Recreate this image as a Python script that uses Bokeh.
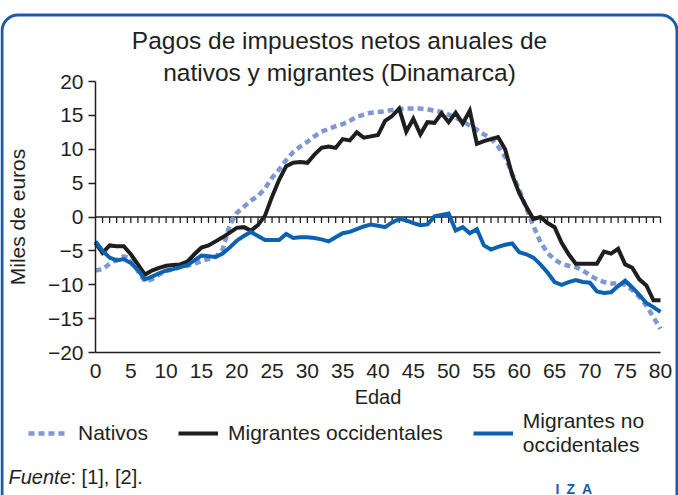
from bokeh.plotting import figure
from bokeh.models import (Range1d, FixedTicker, Label, Legend, LegendItem,
                          BoxAnnotation)
from bokeh.embed import file_html
from bokeh.resources import INLINE

# ---------------- data ----------------
ages = list(range(81))

nativos = [-7.9, -7.7, -6.9, -6.3, -5.8, -6.1, -8.0, -9.5, -9.2, -8.5,
           -8.0, -7.7, -7.4, -7.2, -6.9, -6.5, -6.2, -5.9, -4.8, -1.2,
           0.6, 1.5, 2.4, 3.1, 4.2, 5.8, 7.0, 8.4, 9.6, 10.4,
           11.1, 11.9, 12.6, 13.0, 13.4, 13.7, 14.2, 14.8, 15.1, 15.4,
           15.5, 15.6, 15.8, 15.9, 16.0, 16.0, 16.0, 15.9, 15.7, 15.5,
           15.1, 14.7, 14.1, 13.5, 12.9, 12.2, 11.6, 10.4, 8.9, 6.4,
           4.0, 1.3, -1.3, -3.7, -5.3, -6.3, -6.9, -7.2, -7.4, -7.9,
           -8.6, -9.2, -9.6, -9.8, -9.8, -10.0, -10.8, -11.8, -13.1, -14.8,
           -16.5]

occidentales = [-3.8, -5.3, -4.2, -4.3, -4.3, -5.5, -7.0, -8.5, -7.9, -7.5,
                -7.2, -7.1, -7.0, -6.6, -5.5, -4.5, -4.2, -3.6, -3.0, -2.3,
                -1.6, -1.5, -2.0, -1.2, 0.2, 3.0, 5.5, 7.5, 8.0, 8.1,
                8.0, 9.2, 10.2, 10.4, 10.2, 11.5, 11.3, 12.5, 11.7, 11.9,
                12.1, 14.2, 14.9, 16.0, 12.6, 14.5, 12.2, 14.0, 13.9, 15.3,
                14.0, 15.4, 13.8, 15.7, 10.8, 11.2, 11.5, 11.8, 10.0, 6.2,
                3.5, 1.5, -0.3, 0.0, -0.9, -1.5, -3.8, -5.5, -6.9, -6.9,
                -6.9, -6.9, -5.1, -5.4, -4.7, -7.0, -7.5, -9.2, -10.1, -12.3,
                -12.3]

no_occidentales = [-3.6, -5.0, -6.0, -6.4, -6.2, -6.8, -7.8, -9.2, -8.8, -8.3,
                   -7.9, -7.7, -7.4, -7.1, -6.4, -5.7, -5.8, -5.9, -5.4, -4.5,
                   -3.5, -2.8, -2.2, -2.8, -3.4, -3.4, -3.4, -2.5, -3.1, -3.0,
                   -3.0, -3.1, -3.3, -3.6, -3.0, -2.4, -2.2, -1.8, -1.4, -1.1,
                   -1.3, -1.5, -0.8, -0.3, -0.5, -0.9, -1.2, -1.1, 0.1, 0.3,
                   0.5, -2.0, -1.5, -2.4, -1.8, -4.2, -4.8, -4.4, -4.1, -3.9,
                   -5.2, -5.5, -6.0, -7.0, -8.2, -9.6, -10.0, -9.6, -9.3, -9.6,
                   -9.7, -11.0, -11.2, -11.1, -10.2, -9.4, -10.4, -11.5, -12.7, -13.3,
                   -14.0]

series_labels = ["Nativos", "Migrantes occidentales", "Migrantes no\noccidentales"]

x_min, x_max = 0, 80
y_min, y_max = -20, 20
y_ticks = [-20, -15, -10, -5, 0, 5, 10, 15, 20]
y_tick_labels = ["\u221220", "\u221215", "\u221210", "\u22125", "0", "5", "10", "15", "20"]
x_ticks = [0, 5, 10, 15, 20, 25, 30, 35, 40, 45, 50, 55, 60, 65, 70, 75, 80]

title_lines = ["Pagos de impuestos netos anuales de", "nativos y migrantes (Dinamarca)"]
x_label = "Edad"
y_label = "Miles de euros"
source_label = "Fuente"
source_refs = ": [1], [2]."
logo_text = "I\u2002Z\u2002A"

# ---------------- style / layout ----------------
FONT = "Liberation Sans"
TXT = "#231f20"
C_NAT = "#7f97d2"
C_OCC = "#1e1e1e"
C_NOC = "#0b62b0"
C_FRAME = "#1c5ca6"

W, H = 678, 495
# pixel box of the data area inside the canvas
PX_L, PX_R, PX_T, PX_B = 95, 660, 81, 352
sx = (PX_R - PX_L) / (x_max - x_min)
sy = (PX_B - PX_T) / (y_max - y_min)
x_range = Range1d(x_min - PX_L / sx, x_max + (W - PX_R) / sx)
y_range = Range1d(y_min - (H - PX_B) / sy, y_max + PX_T / sy)

p = figure(width=W, height=H, x_range=x_range, y_range=y_range,
           output_backend="svg", toolbar_location=None, min_border=0)
p.background_fill_color = "white"
p.border_fill_color = "white"
p.outline_line_color = None
p.xgrid.visible = False
p.ygrid.visible = False

# y axis, drawn at x = 0
ya = p.yaxis[0]
ya.fixed_location = x_min
ya.bounds = (y_min, y_max)
ya.ticker = FixedTicker(ticks=y_ticks)
ya.major_label_overrides = {t: l for t, l in zip(y_ticks, y_tick_labels)}
ya.major_tick_out = 7
ya.major_tick_in = 0
ya.minor_tick_out = 0
ya.minor_tick_in = 0
ya.major_label_standoff = 5
ya.major_label_text_font = FONT
ya.major_label_text_font_size = "21px"
ya.major_label_text_color = TXT
ya.axis_line_color = TXT
ya.axis_line_width = 1.5
ya.major_tick_line_color = TXT
ya.major_tick_line_width = 1.5
ya.axis_label = y_label
ya.axis_label_text_font = FONT
ya.axis_label_text_font_size = "21px"
ya.axis_label_text_font_style = "normal"
ya.axis_label_text_color = TXT
ya.axis_label_standoff = 16

# x axis, drawn at y = -20
xa = p.xaxis[0]
xa.fixed_location = y_min
xa.bounds = (x_min, x_max)
xa.ticker = FixedTicker(ticks=x_ticks)
xa.major_tick_out = 0
xa.major_tick_in = 0
xa.minor_tick_out = 0
xa.minor_tick_in = 0
xa.major_label_standoff = 11
xa.major_label_text_font = FONT
xa.major_label_text_font_size = "21px"
xa.major_label_text_color = TXT
xa.axis_line_color = TXT
xa.axis_line_width = 1.5
xa.axis_label = x_label
xa.axis_label_text_font = FONT
xa.axis_label_text_font_size = "20px"
xa.axis_label_text_font_style = "normal"
xa.axis_label_text_color = TXT
xa.axis_label_standoff = 5

# zero line with yearly ticks
p.segment(x0=[x_min], y0=[0], x1=[x_max], y1=[0], line_color=TXT, line_width=1.5)
p.segment(x0=ages[1:], y0=[0] * 80, x1=ages[1:], y1=[-0.9] * 80,
          line_color=TXT, line_width=1.3)

# series
r_nat = p.line(ages, nativos, line_color=C_NAT, line_width=4.5, line_dash="6 4",
               line_cap="butt")
r_occ = p.line(ages, occidentales, line_color=C_OCC, line_width=4, line_join="miter")
r_noc = p.line(ages, no_occidentales, line_color=C_NOC, line_width=4, line_join="miter")

legend = Legend(items=[LegendItem(label=series_labels[0], renderers=[r_nat]),
                       LegendItem(label=series_labels[1], renderers=[r_occ]),
                       LegendItem(label=series_labels[2], renderers=[r_noc])],
                location=(28, 38), orientation="horizontal",
                glyph_width=40, glyph_height=20, label_standoff=10, spacing=30,
                padding=0, margin=0, border_line_color=None,
                background_fill_alpha=0,
                label_text_font=FONT, label_text_font_size="21px",
                label_text_line_height=1.05,
                label_text_color=TXT)
p.add_layout(legend, "center")

# title
for i, line in enumerate(title_lines):
    p.add_layout(Label(x=W / 2, y=H - 40 - 32 * i, x_units="screen", y_units="screen",
                       text=line, text_align="center", text_baseline="alphabetic",
                       text_font=FONT, text_font_size="24.5px", text_color=TXT))

# footer
p.add_layout(Label(x=8, y=H - 476, x_units="screen", y_units="screen", text=source_label,
                   text_font=FONT, text_font_size="20px", text_font_style="italic",
                   text_color=TXT, text_baseline="alphabetic"))
p.add_layout(Label(x=70, y=H - 476, x_units="screen", y_units="screen", text=source_refs,
                   text_font=FONT, text_font_size="20px",
                   text_color=TXT, text_baseline="alphabetic"))
p.add_layout(Label(x=555, y=H - 488, x_units="screen", y_units="screen", text=logo_text,
                   text_font=FONT, text_font_size="14px", text_font_style="bold",
                   text_color=C_FRAME, text_baseline="alphabetic"))

# rounded frame of the box
p.add_layout(BoxAnnotation(left=1.5, right=W - 1.5, top=H - 14.5, bottom=-30,
                           left_units="screen", right_units="screen",
                           top_units="screen", bottom_units="screen",
                           fill_alpha=0, line_color=C_FRAME, line_alpha=1,
                           line_width=3, border_radius=16))

open("out.html", "w").write(file_html(p, INLINE))
